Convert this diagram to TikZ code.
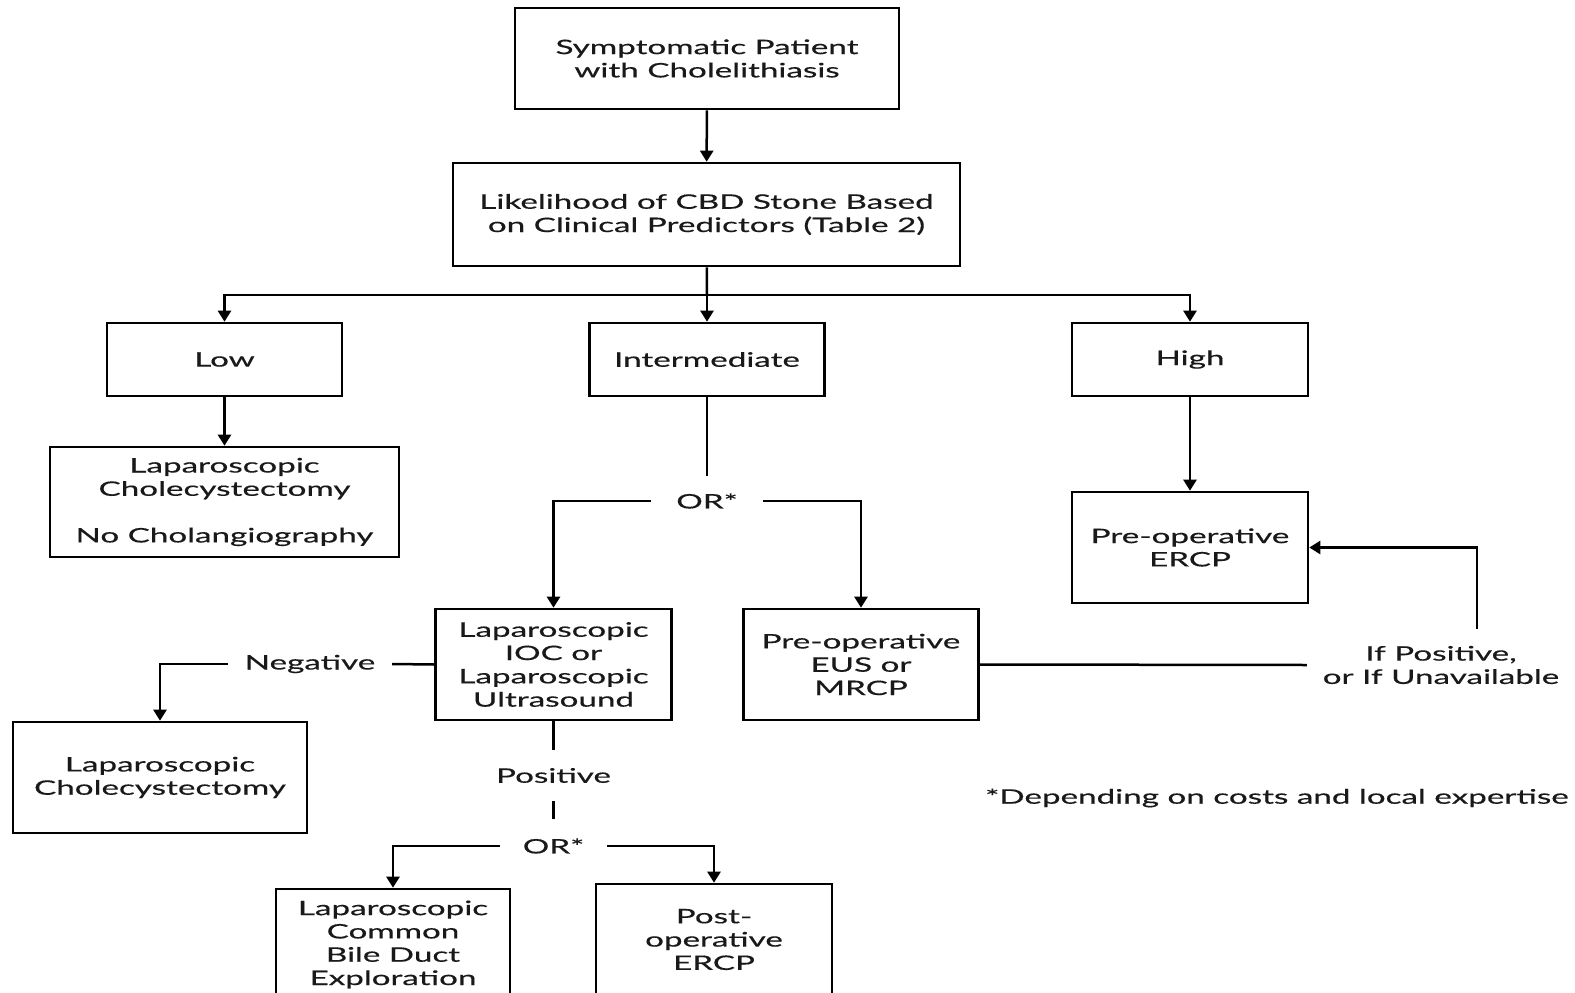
\documentclass[tikz,border=0pt]{standalone}
\usepackage{fontspec}
\setmainfont[FakeStretch=1.66,FakeBold=0.4]{Lato}
\usetikzlibrary{arrows.meta}
\begin{document}
\begin{tikzpicture}[x=1pt,y=-1pt,
  every node/.style={font=\fontsize{20}{23.3}\selectfont, text=black!90},
  bx/.style={draw, line width=2.6pt, align=center, inner sep=0pt},
  lbl/.style={align=center, inner sep=0pt},
  ln/.style={line width=2.5pt},
  arr/.style={line width=2.5pt, -{Triangle[length=11pt,width=13pt]}}]
\useasboundingbox (0,0) rectangle (1575,993);
\clip (0,0) rectangle (1575,993);
% boxes
\node[bx, minimum width=384, minimum height=101] (top) at (707,58.5) {Symptomatic Patient\\with Cholelithiasis};
\node[bx, minimum width=507, minimum height=103] (like) at (706.5,214.5) {Likelihood of CBD Stone Based\\on Clinical Predictors (Table 2)};
\node[bx, minimum width=235, minimum height=73] (low) at (224.5,359.5) {Low};
\node[bx, minimum width=235, minimum height=73] (inter) at (707,359.5) {Intermediate};
\node[bx, minimum width=236, minimum height=73] (high) at (1190,359.5) {High};
\node[bx, minimum width=349, minimum height=110] (lapnc) at (224.5,502) {Laparoscopic\\Cholecystectomy\\[23.3pt]No Cholangiography};
\node[bx, minimum width=236, minimum height=111] (ercp) at (1190,547.5) {Pre-operative\\ERCP};
\node[bx, minimum width=236, minimum height=111] (ioc) at (553.5,664.5) {Laparoscopic\\IOC or\\Laparoscopic\\Ultrasound};
\node[bx, minimum width=235, minimum height=111] (eus) at (861,664.5) {Pre-operative\\EUS or\\MRCP};
\node[bx, minimum width=294, minimum height=111] (lapc) at (160,777.5) {Laparoscopic\\Cholecystectomy};
\node[bx, minimum width=234, minimum height=111] (cbd) at (393,944.5) {Laparoscopic\\Common\\Bile Duct\\Exploration};
\node[bx, minimum width=236, minimum height=111] (post) at (714,939.5) {Post-\\operative\\ERCP};
% labels
\node[lbl, minimum width=112, minimum height=50] (or1) at (707,501) {OR*};
\node[lbl, minimum width=164, minimum height=40] (neg) at (310,664) {Negative};
\node[lbl, minimum width=80, minimum height=51] (pos) at (553.5,775.5) {Positive};
\node[lbl, minimum width=106, minimum height=54] (or2) at (553.5,846) {OR*};
\node[lbl, minimum width=268, minimum height=72] (ifpos) at (1441,665) {If Positive,\\or If Unavailable};
\node[lbl] (foot) at (1277,798) {*Depending on costs and local expertise};
% connectors
\coordinate (j1) at (707,295);
\coordinate (c1) at (1477,629);
\draw[arr] (top) -- (like);
\draw[ln] (like) -- (j1);
\draw[arr] (j1) -| (low.north);
\draw[arr] (j1) -| (high.north);
\draw[arr] (j1) -- (inter.north);
\draw[arr] (low) -- (lapnc);
\draw[arr] (high) -- (ercp);
\draw[ln] (inter) -- (or1.north);
\draw[arr] (or1.west) -| (ioc.north);
\draw[arr] (or1.east) -| (eus.north);
\draw[ln] (ioc.west) -- (neg.east);
\draw[arr] (neg.west) -| (lapc.north);
\draw[ln] (ioc.south) -- (pos.north);
\draw[ln] (pos.south) -- (or2.north);
\draw[arr] (or2.west) -| (cbd.north);
\draw[arr] (or2.east) -| (post.north);
\draw[ln] (eus.east) -- (ifpos.west);
\draw[arr] (c1) |- (ercp.east);
\end{tikzpicture}
\end{document}
